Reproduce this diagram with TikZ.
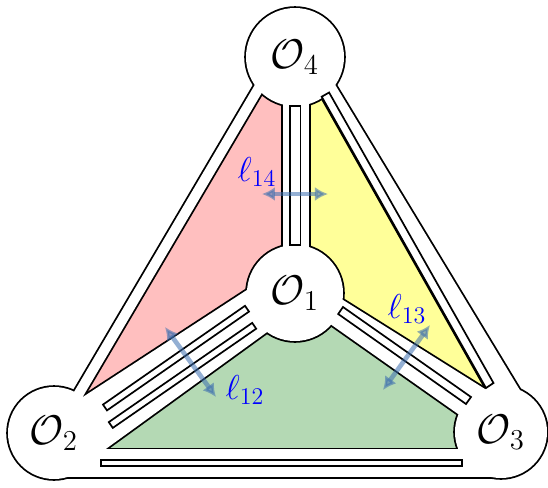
\documentclass[tikz,border=0pt]{standalone}
\usepackage{tikz}
\usetikzlibrary{arrows.meta}
\definecolor{facered}{RGB}{255,191,191}
\definecolor{faceyellow}{RGB}{255,255,153}
\definecolor{facegreen}{RGB}{180,217,180}
\definecolor{bridgeblue}{RGB}{60,110,175}

\begin{document}
\begin{tikzpicture}[x=0.5pt, y=-0.5pt,
  op/.style={inner sep=0pt, font=\huge},
  len/.style={inner sep=0pt, text=blue, font=\LARGE},
  rim/.style={draw=black, line width=1.8pt},
  core/.style={fill=white},
  strip/.style={draw=black, fill=white, line width=0.85pt},
  cut/.style={{Latex[length=6.5pt,width=7pt]}-{Latex[length=6.5pt,width=7pt]}, line width=2.3pt, draw=bridgeblue, opacity=0.55}]
\useasboundingbox (0,0) rectangle (548,488);
% operator centres
\coordinate (c4) at (295,57);
\coordinate (c1) at (295,293);
\coordinate (c2) at (54,433);
\coordinate (c3) at (501,432);

% faces
\fill[facered] (275,60) -- (296,60) -- (c1) -- (52,440) -- cycle;
\fill[faceyellow] (296,60) -- (311,60) -- (521,420) -- (495,420) -- (c1) -- cycle;
\fill[facegreen] (c1) -- (495,420) -- (500,463) -- (54,463) -- cycle;

% bridges and operators, rim first then white core
\foreach \look in {rim,core}{
  \path[\look] (c4) circle (49) (c1) circle (48) (c2) circle (46) (c3) circle (46);
  \path[\look] (283,57) -- (309,57) -- (309,293) -- (283,293) -- cycle;
  \path[\look] (269.5,60) -- (281.1,60) -- (63.2,430) -- (51.6,430) -- cycle;
  \path[\look] (302.1,62) -- (321.4,62) -- (541,425) -- (506.9,425) -- cycle;
  \path[\look] (290,261.9) -- (290,315.4) -- (75,471.3) -- (75,402.1) -- cycle;
  \path[\look] (300,273) -- (495,395.3) -- (495,440) -- (300,302.7) -- cycle;
  \path[\look] (54,449.3) -- (500,449.3) -- (500,477) -- (54,477) -- cycle;
}

% faces between neighbouring lines
\path[strip] (290,106) -- (300.5,106) -- (300.5,245) -- (290,245) -- cycle;
\path[strip] (321.7,96.7) -- (329.1,92.5) -- (493.5,383) -- (486,388) -- cycle;
\path[strip] (245,305.8) -- (249,311.6) -- (107,410.4) -- (103,404.6) -- cycle;
\path[strip] (252.2,322.9) -- (256.2,328.7) -- (112.8,427.9) -- (108.8,422.1) -- cycle;
\path[strip] (343,307) -- (471,397) -- (466,404) -- (338.2,314) -- cycle;
\path[strip] (101,460) -- (462,460) -- (462,466) -- (101,466) -- cycle;

% bridge lengths
\coordinate (a14) at (262,194);
\coordinate (b14) at (328,194);
\coordinate (a12) at (165,327);
\coordinate (b12) at (216,397);
\coordinate (a13) at (430,325);
\coordinate (b13) at (383,390);
\draw[cut] (a14) -- (b14);
\draw[cut] (a12) -- (b12);
\draw[cut] (a13) -- (b13);
\node[len] (l14) at (257,172) {$\ell_{14}$};
\node[len] (l12) at (245,390) {$\ell_{12}$};
\node[len] (l13) at (407,309) {$\ell_{13}$};

\node[op] (O4) at (c4) {$\mathcal{O}_4$};
\node[op] (O1) at (c1) {$\mathcal{O}_1$};
\node[op] (O2) at (c2) {$\mathcal{O}_2$};
\node[op] (O3) at (c3) {$\mathcal{O}_3$};
\end{tikzpicture}
\end{document}
